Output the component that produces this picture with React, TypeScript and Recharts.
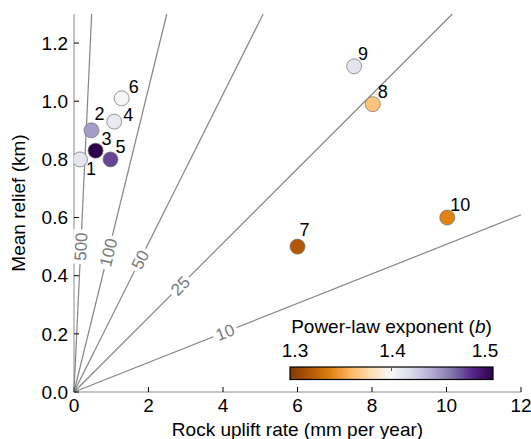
import React from "react"
import {
  ScatterChart,
  Scatter,
  XAxis,
  YAxis,
  ReferenceLine,
  ReferenceDot,
} from "recharts"

// Catchment data
const siteLabels = ["1", "2", "3", "4", "5", "6", "7", "8", "9", "10"]
const upliftRate = [0.16, 0.47, 0.58, 1.08, 0.98, 1.28, 6.0, 8.02, 7.52, 10.02]
const meanRelief = [0.8, 0.9, 0.83, 0.93, 0.8, 1.01, 0.5, 0.99, 1.12, 0.6]
const powerLawExponent = [1.412, 1.445, 1.5, 1.41, 1.472, 1.399, 1.32, 1.366, 1.413, 1.34]

// Contours through the origin (relief = slope * uplift)
const contourLabels = ["10", "25", "50", "100", "500"]
const contourSlopes = [0.0508, 0.128, 0.256, 0.522, 2.74]

const xTicks = [0, 2, 4, 6, 8, 10, 12]
const yTicks = [0, 0.2, 0.4, 0.6, 0.8, 1.0, 1.2]
const colorbarTicks = [1.3, 1.4, 1.5]

// PuOr colour map, 1.3 -> 1.5
const puOrStops = [
  "#7f3b08", "#b35806", "#e08214", "#fdb863", "#fee0b6", "#f7f7f7",
  "#d8daeb", "#b2abd2", "#8073ac", "#542788", "#2d004b",
]

const W = 531
const H = 439
const MARGIN = { top: 14, right: 10, bottom: 0, left: 0 }
const Y_AXIS_W = 74
const X_AXIS_H = 47
const X_MAX = 12
const Y_MAX = 1.3
const PLOT_W = W - Y_AXIS_W - MARGIN.right
const PLOT_H = H - MARGIN.top - X_AXIS_H
const FONT = "'Liberation Sans', Arial, Helvetica, sans-serif"
const FS = 19

// label placement (pixel offsets from the marker centre)
const siteLabelOffsets: Record<string, [number, number]> = {
  "1": [11, 9],
  "2": [8, -17],
  "3": [11, -12],
  "4": [14, -7],
  "5": [10, -13],
  "6": [12, -12],
  "7": [7, -17],
  "8": [10, -13],
  "9": [9, -13],
  "10": [13, -13],
}
// relief at which each contour label sits
const contourLabelRelief = [0.206, 0.365, 0.455, 0.48, 0.5]

function hexToRgb(hex: string) {
  const n = parseInt(hex.slice(1), 16)
  return [(n >> 16) & 255, (n >> 8) & 255, n & 255]
}

function puOr(b: number) {
  const t = Math.min(1, Math.max(0, (b - 1.3) / 0.2)) * (puOrStops.length - 1)
  const i = Math.min(puOrStops.length - 2, Math.floor(t))
  const f = t - i
  const a = hexToRgb(puOrStops[i])
  const c = hexToRgb(puOrStops[i + 1])
  const mix = a.map((v, k) => Math.round(v + (c[k] - v) * f))
  return `rgb(${mix[0]},${mix[1]},${mix[2]})`
}

const points = siteLabels.map((site, i) => ({
  site,
  x: upliftRate[i],
  y: meanRelief[i],
  b: powerLawExponent[i],
}))

const contours = contourLabels.map((label, i) => {
  const slope = contourSlopes[i]
  const endX = Math.min(X_MAX, Y_MAX / slope)
  const ly = contourLabelRelief[i]
  return {
    label,
    endX,
    endY: slope * endX,
    labelX: ly / slope,
    labelY: ly,
    angle: (Math.atan((slope * PLOT_H) / Y_MAX / (PLOT_W / X_MAX)) * 180) / Math.PI,
  }
})

const SitePoint = (props: any) => {
  const { cx, cy, payload } = props
  if (cx == null || cy == null) return null
  const [dx, dy] = siteLabelOffsets[payload.site] ?? [10, -12]
  return (
    <g>
      <circle cx={cx} cy={cy} r={7.5} fill={puOr(payload.b)} stroke="#6f6f6f" strokeWidth={0.7} />
      <text x={cx + dx} y={cy + dy + 6.5} textAnchor="middle" fontSize={18} fontFamily={FONT} fill="#000">
        {payload.site}
      </text>
    </g>
  )
}

const ContourLabel = ({ cx, cy, text, angle }: any) => {
  if (cx == null || cy == null) return null
  const w = text.length * 0.556 * 17 + 6
  return (
    <g transform={`rotate(${-angle}, ${cx}, ${cy})`}>
      <rect x={cx - w / 2} y={cy - 8} width={w} height={16} fill="#fff" />
      <text x={cx} y={cy + 6} textAnchor="middle" fontSize={17} fontFamily={FONT} fill="#7a7a7a">
        {text}
      </text>
    </g>
  )
}

function ColorBar() {
  const x0 = 290
  const y0 = 367
  const bw = 203
  const bh = 12.5
  const pos = (v: number) => x0 + ((v - 1.3) / 0.2) * bw
  const nudge = [5, 1, -8]
  return (
    <svg
      width={W}
      height={H}
      style={{ position: "absolute", left: 0, top: 0, pointerEvents: "none" }}
      fontFamily={FONT}
    >
      <defs>
        <linearGradient id="puor" x1="0" x2="1" y1="0" y2="0">
          {puOrStops.map((c, i) => (
            <stop key={c} offset={i / (puOrStops.length - 1)} stopColor={c} />
          ))}
        </linearGradient>
      </defs>
      <text x={x0 + bw / 2} y={333} textAnchor="middle" fontSize={FS} fill="#000">
        Power-law exponent (<tspan fontStyle="italic">b</tspan>)
      </text>
      {colorbarTicks.map((v, i) => (
        <text key={v} x={pos(v) + nudge[i]} y={357} textAnchor="middle" fontSize={FS} fill="#000">
          {v.toFixed(1)}
        </text>
      ))}
      <rect x={x0} y={y0} width={bw} height={bh} fill="url(#puor)" stroke="#000" strokeWidth={1.2} />
      <line x1={pos(1.4)} x2={pos(1.4)} y1={y0} y2={y0 + 4} stroke="#555" strokeWidth={1} />
    </svg>
  )
}

export default function App() {
  const tickStyle = { fill: "#000", fontSize: FS, fontFamily: FONT }
  return (
    <div style={{ position: "absolute", left: 0, top: 0, width: W, height: H, background: "#fff" }}>
      <ScatterChart width={W} height={H} margin={MARGIN}>
        <XAxis
          type="number"
          dataKey="x"
          domain={[0, X_MAX]}
          ticks={xTicks}
          allowDataOverflow
          height={X_AXIS_H}
          tickSize={-5}
          tickMargin={12}
          tick={tickStyle}
          axisLine={{ stroke: "#8a8a8a" }}
          tickLine={{ stroke: "#000" }}
          label={{
            value: "Rock uplift rate (mm per year)",
            position: "insideBottom",
            offset: 3,
            fill: "#000",
            fontSize: FS,
            fontFamily: FONT,
          }}
        />
        <YAxis
          type="number"
          dataKey="y"
          domain={[0, Y_MAX]}
          ticks={yTicks}
          allowDataOverflow
          width={Y_AXIS_W}
          tickSize={-5}
          tickMargin={11}
          tick={tickStyle}
          tickFormatter={(v: number) => v.toFixed(1)}
          axisLine={{ stroke: "#8a8a8a" }}
          tickLine={{ stroke: "#000" }}
          label={{
            value: "Mean relief (km)",
            angle: -90,
            position: "insideLeft",
            offset: 18,
            fill: "#000",
            fontSize: FS,
            fontFamily: FONT,
            style: { textAnchor: "middle" },
          }}
        />
        <XAxis
          xAxisId="top"
          orientation="top"
          type="number"
          domain={[0, X_MAX]}
          ticks={xTicks}
          height={0}
          tickSize={-5}
          tickFormatter={() => ""}
          axisLine={{ stroke: "#000", strokeWidth: 2 }}
          tickLine={{ stroke: "#000" }}
        />
        <YAxis
          yAxisId="right"
          orientation="right"
          type="number"
          domain={[0, Y_MAX]}
          ticks={yTicks}
          width={0}
          tickSize={-5}
          tickFormatter={() => ""}
          axisLine={{ stroke: "#8a8a8a" }}
          tickLine={{ stroke: "#000" }}
        />
        {contours.map((c) => (
          <ReferenceLine
            key={`line-${c.label}`}
            segment={[
              { x: 0, y: 0 },
              { x: c.endX, y: c.endY },
            ]}
            stroke="#858585"
            strokeWidth={1.2}
            ifOverflow="visible"
          />
        ))}
        {contours.map((c) => (
          <ReferenceDot
            key={`label-${c.label}`}
            x={c.labelX}
            y={c.labelY}
            r={0}
            ifOverflow="visible"
            shape={(p: any) => <ContourLabel cx={p.cx} cy={p.cy} text={c.label} angle={c.angle} />}
          />
        ))}
        <Scatter data={points} shape={SitePoint} isAnimationActive={false} />
      </ScatterChart>
      <ColorBar />
    </div>
  )
}
